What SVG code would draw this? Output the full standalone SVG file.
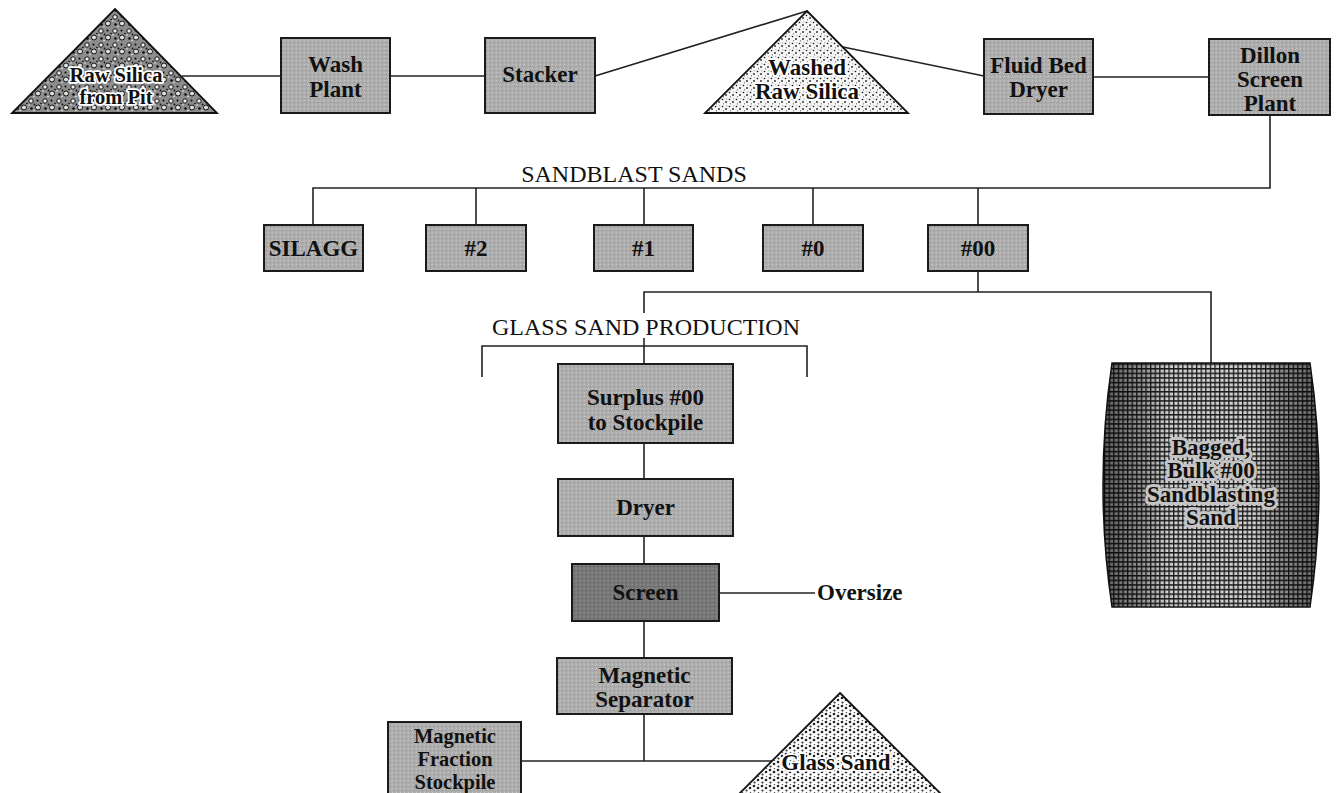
<svg xmlns="http://www.w3.org/2000/svg" width="1336" height="793" viewBox="0 0 1336 793">
<style>
.box{stroke:#1a1a1a;stroke-width:2;fill:url(#stip)}
.dark{fill:url(#stipd)}
.ln{stroke:#222;stroke-width:1.6;fill:none}
.tri{stroke:#111;stroke-width:1.8}
.t{font-family:"Liberation Serif","Times New Roman",serif;font-weight:bold;font-size:23px;text-anchor:middle;fill:#111}
.s{font-size:20.5px}
.h{font-weight:normal;font-size:24px}
.l{text-anchor:start}
.halo{paint-order:stroke;stroke:#fff;stroke-width:3.5;stroke-linejoin:round}
.bhalo{paint-order:stroke;stroke:#c4c4c4;stroke-width:6;stroke-linejoin:round}
</style>
<defs>
<pattern id="stip" width="4" height="4" patternUnits="userSpaceOnUse">
<rect width="4" height="4" fill="#adadad"/>
<rect x="0" y="0" width="1" height="1" fill="#c6c6c6"/>
<rect x="2" y="2" width="1" height="1" fill="#909090"/>
<rect x="3" y="1" width="1" height="1" fill="#bebebe"/>
</pattern>
<pattern id="stipd" width="4" height="4" patternUnits="userSpaceOnUse">
<rect width="4" height="4" fill="#777"/>
<rect x="0" y="0" width="1" height="1" fill="#8c8c8c"/>
<rect x="2" y="2" width="1" height="1" fill="#5a5a5a"/>
<rect x="3" y="1" width="1" height="1" fill="#888"/>
</pattern>
<pattern id="pebble" width="14" height="14" patternUnits="userSpaceOnUse">
<rect width="14" height="14" fill="#8c8c8c"/>
<circle cx="3" cy="3" r="2.2" fill="#eee" stroke="#111" stroke-width="1"/>
<circle cx="10" cy="9.5" r="2.5" fill="#ddd" stroke="#111" stroke-width="1"/>
<circle cx="9.5" cy="2.5" r="1" fill="#000"/>
<circle cx="3.5" cy="10.5" r="1.2" fill="#000"/>
<circle cx="13" cy="5.5" r="0.8" fill="#000"/>
<circle cx="6.5" cy="6.5" r="0.9" fill="#111"/>
<circle cx="1" cy="7" r="0.7" fill="#fff"/>
<circle cx="6" cy="12.5" r="0.7" fill="#fff"/>
</pattern>
<pattern id="fine" width="7" height="7" patternUnits="userSpaceOnUse">
<rect width="7" height="7" fill="#f6f6f6"/>
<circle cx="1.5" cy="1.5" r="0.8" fill="#111"/>
<circle cx="5" cy="4" r="0.9" fill="#222"/>
<circle cx="2.5" cy="5.8" r="0.6" fill="#555"/>
<circle cx="5.8" cy="0.8" r="0.5" fill="#777"/>
</pattern>
<pattern id="dots" width="8" height="8" patternUnits="userSpaceOnUse">
<rect width="8" height="8" fill="#fff"/>
<circle cx="2" cy="2" r="1.3" fill="#222"/>
<circle cx="6" cy="4" r="1.3" fill="#222"/>
<circle cx="2.5" cy="6.5" r="1.1" fill="#333"/>
<circle cx="6.5" cy="0.5" r="0.7" fill="#555"/>
</pattern>
<pattern id="weave" width="4.6" height="4.6" patternUnits="userSpaceOnUse">
<rect width="4.6" height="4.6" fill="#d0d0d0"/>
<rect x="0" y="0" width="4.6" height="1.5" fill="#1a1a1a"/>
<rect x="0" y="0" width="1.3" height="4.6" fill="#1a1a1a"/>
</pattern>
<linearGradient id="bagshade" x1="0" y1="0" x2="1" y2="0">
<stop offset="0" stop-color="#000" stop-opacity="0.55"/>
<stop offset="0.18" stop-color="#000" stop-opacity="0.3"/>
<stop offset="0.3" stop-color="#000" stop-opacity="0.0"/>
<stop offset="0.7" stop-color="#000" stop-opacity="0.0"/>
<stop offset="0.82" stop-color="#000" stop-opacity="0.3"/>
<stop offset="1" stop-color="#000" stop-opacity="0.55"/>
</linearGradient>
</defs>
<rect width="1336" height="793" fill="#fff"/>

<g id="connectors">
<line class="ln" x1="182" y1="76" x2="281" y2="76"/>
<line class="ln" x1="390" y1="76" x2="485" y2="76"/>
<line class="ln" x1="595" y1="76" x2="807" y2="11"/>
<line class="ln" x1="843" y1="47" x2="984" y2="76"/>
<line class="ln" x1="1093" y1="77" x2="1209" y2="77"/>
<polyline class="ln" points="1270,115 1270,188 313,188 313,225"/>
<line class="ln" x1="476" y1="188" x2="476" y2="225"/>
<line class="ln" x1="644" y1="188" x2="644" y2="225"/>
<line class="ln" x1="813" y1="188" x2="813" y2="225"/>
<line class="ln" x1="978" y1="188" x2="978" y2="225"/>
<polyline class="ln" points="978,271 978,292"/>
<polyline class="ln" points="644,313 644,292 1211,292 1211,363"/>
<line class="ln" x1="644" y1="338" x2="644" y2="364"/>
<polyline class="ln" points="482,377 482,346 807,346 807,377"/>
<line class="ln" x1="644" y1="443" x2="644" y2="479"/>
<line class="ln" x1="644" y1="536" x2="644" y2="564"/>
<line class="ln" x1="719" y1="593" x2="815" y2="593"/>
<line class="ln" x1="644" y1="621" x2="644" y2="658"/>
<line class="ln" x1="644" y1="714" x2="644" y2="761"/>
<line class="ln" x1="521" y1="761" x2="772" y2="761"/>
</g>

<g id="raw-silica">
<polygon class="tri" points="115,9 217,113 12,113" fill="url(#pebble)"/>
<text class="t s halo" x="116" y="82">Raw Silica</text>
<text class="t s halo" x="116" y="104">from Pit</text>
</g>
<g id="wash-plant">
<rect class="box" x="281" y="38" width="109" height="75"/>
<text class="t" x="335.5" y="72">Wash</text>
<text class="t" x="335.5" y="97">Plant</text>
</g>
<g id="stacker">
<rect class="box" x="485" y="38" width="110" height="75"/>
<text class="t" x="540" y="82">Stacker</text>
</g>
<g id="washed-raw-silica">
<polygon class="tri" points="807,11 908,113 705,113" fill="url(#fine)"/>
<text class="t halo" x="807" y="75">Washed</text>
<text class="t halo" x="807" y="99">Raw Silica</text>
</g>
<g id="fluid-bed-dryer">
<rect class="box" x="984" y="39" width="109" height="75"/>
<text class="t" x="1038.5" y="73">Fluid Bed</text>
<text class="t" x="1038.5" y="97">Dryer</text>
</g>
<g id="dillon-screen-plant">
<rect class="box" x="1209" y="39" width="121" height="76"/>
<text class="t" x="1270" y="63">Dillon</text>
<text class="t" x="1270" y="87">Screen</text>
<text class="t" x="1270" y="111">Plant</text>
</g>

<g id="sandblast-label">
<text class="t h" x="634" y="182">SANDBLAST SANDS</text>
</g>
<g id="silagg">
<rect class="box" x="264" y="225" width="99" height="46"/>
<text class="t" x="313.5" y="256">SILAGG</text>
</g>
<g id="n2">
<rect class="box" x="426" y="225" width="100" height="46"/>
<text class="t" x="476" y="256">#2</text>
</g>
<g id="n1">
<rect class="box" x="594" y="225" width="99" height="46"/>
<text class="t" x="643.5" y="256">#1</text>
</g>
<g id="n0">
<rect class="box" x="763" y="225" width="100" height="46"/>
<text class="t" x="813" y="256">#0</text>
</g>
<g id="n00">
<rect class="box" x="928" y="225" width="100" height="46"/>
<text class="t" x="978" y="256">#00</text>
</g>

<g id="glass-sand-label">
<text class="t h" x="646" y="335">GLASS SAND PRODUCTION</text>
</g>
<g id="surplus">
<rect class="box" x="558" y="364" width="175" height="79"/>
<text class="t" x="645.5" y="405">Surplus #00</text>
<text class="t" x="645.5" y="430">to Stockpile</text>
</g>
<g id="dryer">
<rect class="box" x="558" y="479" width="175" height="57"/>
<text class="t" x="645.5" y="515">Dryer</text>
</g>
<g id="screen">
<rect class="box dark" x="572" y="564" width="147" height="57"/>
<text class="t" x="645.5" y="600">Screen</text>
</g>
<g id="oversize">
<text class="t l" x="817" y="600">Oversize</text>
</g>
<g id="magnetic-separator">
<rect class="box" x="557" y="658" width="175" height="56"/>
<text class="t" x="644.5" y="683">Magnetic</text>
<text class="t" x="644.5" y="707">Separator</text>
</g>
<g id="magnetic-fraction">
<rect class="box" x="388" y="722" width="133" height="80"/>
<text class="t s" x="455" y="743">Magnetic</text>
<text class="t s" x="455" y="766">Fraction</text>
<text class="t s" x="455" y="789">Stockpile</text>
</g>
<g id="glass-sand">
<polygon class="tri" points="840,693 952,805 728,805" fill="url(#dots)"/>
<text class="t halo" x="836" y="770">Glass Sand</text>
</g>
<g id="bagged">
<path d="M1112,363 L1310,363 Q1328,485 1310,607 L1112,607 Q1094,485 1112,363 Z" fill="url(#weave)"/>
<path d="M1112,363 L1310,363 Q1328,485 1310,607 L1112,607 Q1094,485 1112,363 Z" fill="url(#bagshade)" stroke="#111" stroke-width="1.5"/>
<text class="t bhalo" x="1211" y="455">Bagged,</text>
<text class="t bhalo" x="1211" y="478">Bulk #00</text>
<text class="t bhalo" x="1211" y="502">Sandblasting</text>
<text class="t bhalo" x="1211" y="525">Sand</text>
</g>
</svg>
